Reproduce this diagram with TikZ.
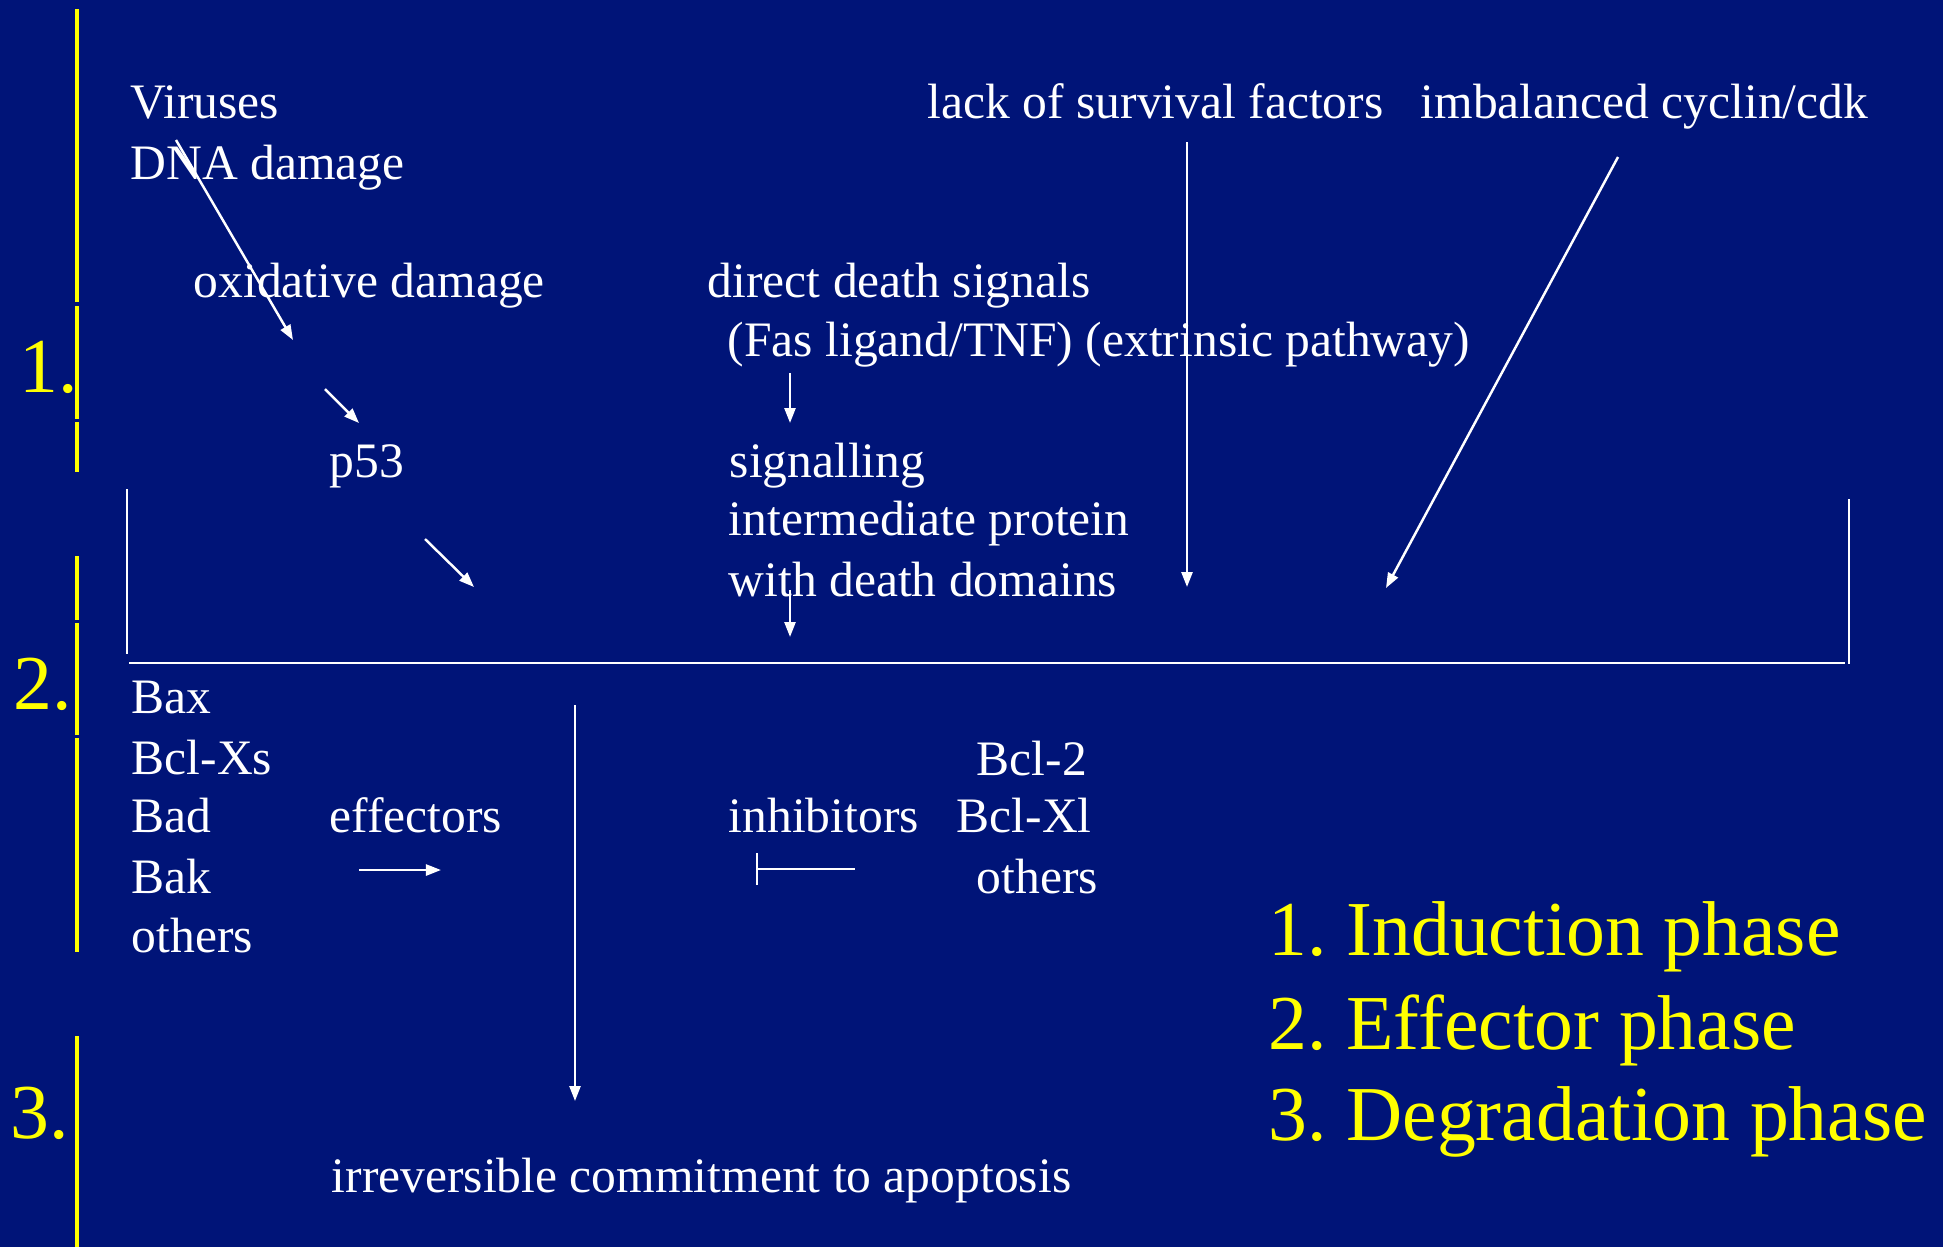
\documentclass[tikz,border=0pt]{standalone}
\usepackage{fontspec}
\setmainfont{Liberation Serif}
\usetikzlibrary{arrows.meta}
\definecolor{slidebg}{RGB}{0,20,120}
\definecolor{slideyellow}{RGB}{255,255,0}
\frenchspacing

\begin{document}
\begin{tikzpicture}[x=0.01cm,y=-0.01cm,
    txt/.style={text=white,inner sep=0pt,anchor=base west,font=\fontsize{14.1}{17}\selectfont},
    phase/.style={text=slideyellow,inner sep=0pt,anchor=base west,font=\fontsize{22.1}{26}\selectfont},
    wire/.style={white,line width=0.8pt},
    conn/.style={white,line width=0.7pt,-{Triangle[length=1.5mm,width=1.1mm]}},
    block/.style={white,line width=0.7pt,{Bar[width=3.2mm]}-},
    ybar/.style={slideyellow,line width=0.9pt}]
  \fill[slidebg] (0,0) rectangle (1943,1247);
  \useasboundingbox (0,0) rectangle (1943,1247);

  % phase marks on the left
  \foreach \a/\b in {9/302,306/419,422/472,556/620,623/735,738/952,1036/1247}
    \draw[ybar] (77,\a) -- (77,\b);
  \node[phase] (one) at (19,392) {1.};
  \node[phase] (two) at (13,709) {2.};
  \node[phase] (three) at (10,1138) {3.};

  % induction
  \node[txt] (viruses) at (130,118) {Viruses};
  \node[txt] (dna) at (130,179) {DNA damage};
  \node[txt] (oxid) at (193,297) {oxidative damage};
  \node[txt] (p53) at (329,477) {p53};
  \node[txt] (lack) at (927,118) {lack of survival factors};
  \node[txt] (cyclin) at (1420,118) {imbalanced cyclin/cdk};
  \node[txt] (direct) at (707,297) {direct death signals};
  \node[txt] (fas) at (727,356) {(Fas ligand/TNF) (extrinsic pathway)};
  \node[txt] (sig1) at (729,477) {signalling};
  \node[txt] (sig2) at (728,535) {intermediate protein};
  \node[txt] (sig3) at (728,596) {with death domains};

  % effector
  \node[txt] (bax) at (131,713) {Bax};
  \node[txt] (bclxs) at (131,774) {Bcl-Xs};
  \node[txt] (bad) at (131,832) {Bad};
  \node[txt] (bak) at (131,893) {Bak};
  \node[txt] (others) at (131,952) {others};
  \node[txt] (effectors) at (329,832) {effectors};
  \node[txt] (inhibitors) at (728,832) {inhibitors};
  \node[txt] (bcltwo) at (976,775) {Bcl-2};
  \node[txt] (bclxl) at (956,832) {Bcl-Xl};
  \node[txt] (othersb) at (976,893) {others};

  % degradation
  \node[txt] (commit) at (331,1192) {irreversible commitment to apoptosis};

  % legend
  \node[phase] (legone) at (1268,955) {1. Induction phase};
  \node[phase] (legtwo) at (1268,1049) {2. Effector phase};
  \node[phase] (legthree) at (1268,1140) {3. Degradation phase};

  % frame
  \draw[wire] (127,489) -- (127,654);
  \draw[wire] (129,663) -- (1845,663);
  \draw[wire] (1849,499) -- (1849,664);

  % arrow ends
  \coordinate (dnaS) at (176,140);
  \coordinate (dnaE) at (293,340);
  \coordinate (p53S) at (325,389);
  \coordinate (p53E) at (359,423);
  \coordinate (p53oS) at (425,539);
  \coordinate (p53oE) at (474,587);
  \coordinate (fasS) at (790,373);
  \coordinate (fasE) at (790,423);
  \coordinate (sigS) at (790,590);
  \coordinate (sigE) at (790,637);
  \coordinate (lackS) at (1187,142);
  \coordinate (lackE) at (1187,587);
  \coordinate (cycS) at (1618,157);
  \coordinate (cycE) at (1386,588);
  \coordinate (effS) at (359,870);
  \coordinate (effE) at (441,870);
  \coordinate (inhS) at (756,869);
  \coordinate (inhE) at (855,869);
  \coordinate (comS) at (575,705);
  \coordinate (comE) at (575,1101);

  \draw[conn] (dnaS) -- (dnaE);
  \draw[conn] (p53S) -- (p53E);
  \draw[conn] (p53oS) -- (p53oE);
  \draw[conn] (fasS) -- (fasE);
  \draw[conn] (sigS) -- (sigE);
  \draw[conn] (lackS) -- (lackE);
  \draw[conn] (cycS) -- (cycE);
  \draw[conn] (effS) -- (effE);
  \draw[block] (inhS) -- (inhE);
  \draw[conn] (comS) -- (comE);
\end{tikzpicture}
\end{document}
